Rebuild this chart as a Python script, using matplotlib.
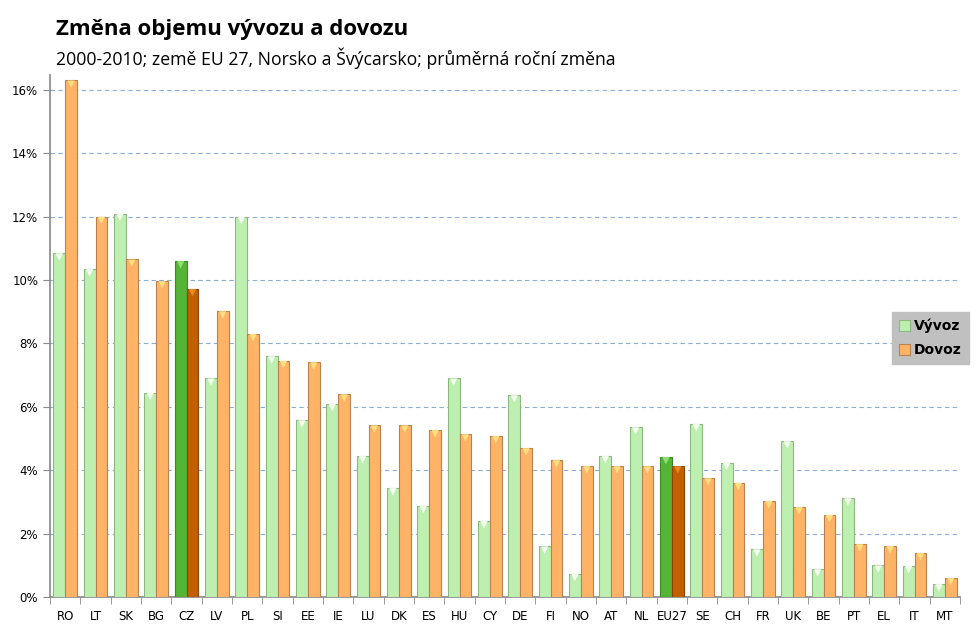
import numpy as np
import matplotlib.pyplot as plt
from matplotlib.ticker import FuncFormatter, FixedLocator

countries = ["RO", "LT", "SK", "BG", "CZ", "LV", "PL", "SI", "EE", "IE", "LU", "DK", "ES", "HU", "CY",
             "DE", "FI", "NO", "AT", "NL", "EU27", "SE", "CH", "FR", "UK", "BE", "PT", "EL", "IT", "MT"]
vyvoz = [10.85, 10.35, 12.1, 6.45, 10.6, 6.9, 12.0, 7.6, 5.58, 6.1, 4.45, 3.44, 2.87, 6.9, 2.4,
         6.37, 1.6, 0.73, 4.45, 5.36, 4.42, 5.46, 4.23, 1.51, 4.92, 0.88, 3.12, 1.0, 0.98, 0.41]
dovoz = [16.3, 12.0, 10.65, 9.97, 9.72, 9.02, 8.3, 7.45, 7.41, 6.4, 5.42, 5.42, 5.27, 5.14, 5.08,
         4.7, 4.32, 4.13, 4.13, 4.13, 4.13, 3.75, 3.6, 3.03, 2.84, 2.59, 1.67, 1.61, 1.39, 0.6]
highlight = ["CZ", "EU27"]

n = len(countries)
x = np.arange(n)
w = 0.39

hl = [c in highlight for c in countries]
green = ["#54b435" if h else "#bdf0b0" for h in hl]
orange = ["#c25f00" if h else "#ffb366" for h in hl]
green_edge = ["#3c8a25" if h else "#8cb880" for h in hl]
orange_edge = ["#8a4500" if h else "#b98050" for h in hl]
green_tip = ["#8ee070" if h else "#f4fff0" for h in hl]
orange_tip = ["#e88a20" if h else "#ffe080" for h in hl]

fig = plt.figure(figsize=(9.77, 6.32), dpi=100)
ax = fig.add_axes([50 / 977, 1 - 597 / 632, 910 / 977, (597 - 75) / 632])

ax.bar(x - w / 2, vyvoz, w, color=green, edgecolor=green_edge, linewidth=0.8, label="Vývoz", zorder=3)
ax.bar(x + w / 2, dovoz, w, color=orange, edgecolor=orange_edge, linewidth=0.8, label="Dovoz", zorder=3)
# bevel highlights at bar tops
ax.scatter(x - w / 2, np.array(vyvoz) - 0.12, marker="v", s=28, c=green_tip, linewidths=0, zorder=4)
ax.scatter(x + w / 2, np.array(dovoz) - 0.12, marker="v", s=28, c=orange_tip, linewidths=0, zorder=4)

ax.set_xlim(-0.5, n - 0.5)
ax.set_ylim(0, 16.47)
ax.set_yticks(np.arange(0, 17, 2))
ax.yaxis.set_major_formatter(FuncFormatter(lambda v, p: f"{v:.0f}%"))
ax.set_xticks(x)
ax.set_xticklabels(countries)
ax.xaxis.set_minor_locator(FixedLocator(np.arange(-0.5, n, 1)))
ax.tick_params(axis="x", which="major", length=0, pad=9, labelsize=8.5)
ax.tick_params(axis="x", which="minor", length=5, color="#888888")
ax.tick_params(axis="y", length=5, color="#888888", labelsize=8.5)
ax.grid(axis="y", color="#8aaed6", linestyle=(0, (4, 3)), linewidth=0.8, zorder=0)
for s in ["top", "right"]:
    ax.spines[s].set_visible(False)
for s in ["left", "bottom"]:
    ax.spines[s].set_color("#888888")
    ax.spines[s].set_linewidth(1.2)

leg = ax.legend(loc="upper left", bbox_to_anchor=(885 / 977, 1 - 305 / 632), bbox_transform=fig.transFigure,
                frameon=True, fancybox=False, facecolor="#c0c0c0", edgecolor="#c0c0c0", framealpha=1,
                handlelength=0.8, handleheight=0.8, handletextpad=0.3, borderpad=0.5, labelspacing=0.7,
                prop={"family": "DejaVu Sans", "weight": "bold", "size": 10})

fig.text(56 / 977, 1 - 30 / 632, "Změna objemu vývozu a dovozu", fontsize=16, fontweight="bold",
         family="Open Sans", va="center")
fig.text(56 / 977, 1 - 58 / 632, "2000-2010; země EU 27, Norsko a Švýcarsko; průměrná roční změna",
         fontsize=12.7, family="Open Sans", va="center")

fig.savefig("out.png", dpi=100)
